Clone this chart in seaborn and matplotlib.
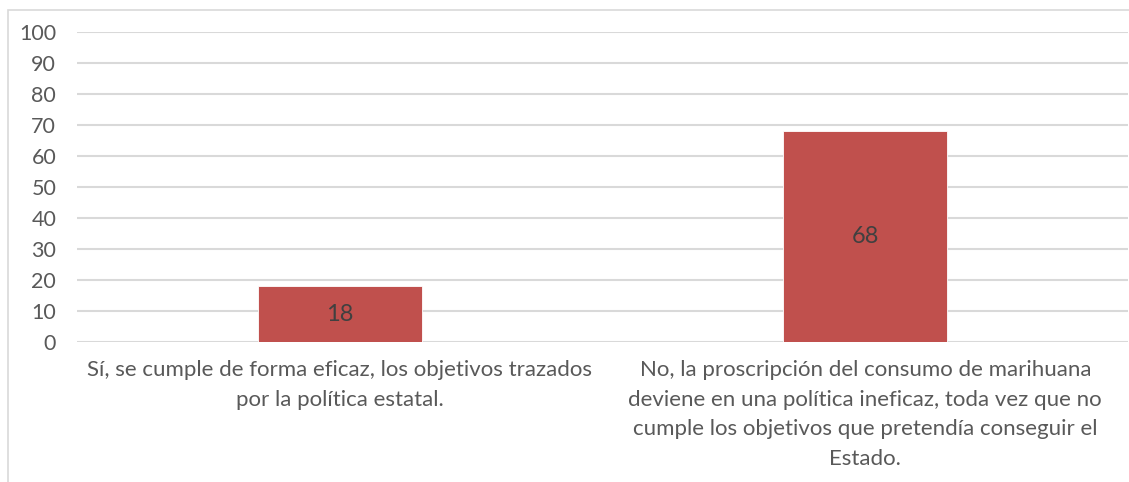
import matplotlib
matplotlib.use("Agg")
import matplotlib.pyplot as plt
import seaborn as sns
import pandas as pd
from matplotlib.patches import Rectangle

categories = [
    "Sí, se cumple de forma eficaz, los objetivos trazados\npor la política estatal.",
    "No, la proscripción del consumo de marihuana\ndeviene en una política ineficaz, toda vez que no\ncumple los objetivos que pretendía conseguir el\nEstado.",
]
values = [18, 68]
yticks = [0, 10, 20, 30, 40, 50, 60, 70, 80, 90, 100]

df = pd.DataFrame({"cat": categories, "val": values})

sns.set_theme(style="white")
plt.rcParams["font.family"] = ["Lato", "DejaVu Sans"]

TEXT = "#595959"
fig = plt.figure(figsize=(11.29, 4.82), dpi=100)
ax = fig.add_axes([77 / 1129, 1 - 342 / 482, (1128 - 77) / 1129, (342 - 32) / 482])

sns.barplot(data=df, x="cat", y="val", color="#C0504D", saturation=1, width=0.313, ax=ax, zorder=3)
for p in ax.patches:
    p.set_edgecolor("white")
    p.set_linewidth(0.6)

for p, v in zip(ax.patches, values):
    ax.text(p.get_x() + p.get_width() / 2, v / 2, str(v), ha="center", va="center",
            fontsize=17, color="#404040", zorder=4)

ax.set_ylim(0, 100)
ax.set_xlim(-0.5, 1.5)
ax.set_yticks(yticks)
ax.set_yticklabels([str(t) for t in yticks], fontsize=15.5, color=TEXT)
ax.tick_params(axis="x", length=0, pad=13, labelsize=16, labelcolor=TEXT)
ax.tick_params(axis="y", length=0, pad=15)
for lab in ax.get_xticklabels():
    lab.set_multialignment("center")
    lab.set_linespacing(1.6)
ax.yaxis.grid(True, color="#D9D9D9", linewidth=1.5, zorder=0)
ax.set_axisbelow(True)
for s in ax.spines.values():
    s.set_visible(False)
ax.set_xlabel("")
ax.set_ylabel("")

fig.patches.append(Rectangle((8 / 1129, -0.1), 1.2, 1 - 10 / 482 + 0.1, transform=fig.transFigure,
                             fill=False, edgecolor="#D9D9D9", linewidth=1.2))

fig.savefig("out.png", dpi=100)
